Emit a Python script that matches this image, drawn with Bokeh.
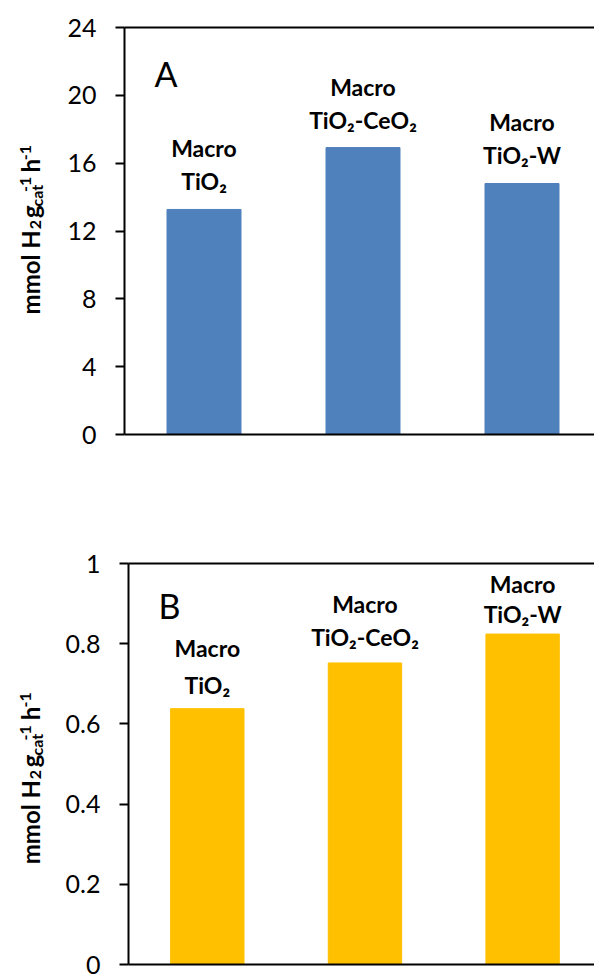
import math
from bokeh.plotting import figure
from bokeh.layouts import column, row
from bokeh.models import (ColumnDataSource, Range1d, LinearAxis, FixedTicker,
                          NumeralTickFormatter, Label)
from bokeh.core.properties import value
from bokeh.embed import file_html
from bokeh.resources import INLINE

# ---------------- data ----------------
catalysts_line1 = ["Macro", "Macro", "Macro"]
catalysts_line2 = ["TiO\u2082", "TiO\u2082-CeO\u2082", "TiO\u2082-W"]
h2_rate_A = [13.27, 16.92, 14.80]   # panel A, mmol H2 gcat-1 h-1
h2_rate_B = [0.638, 0.752, 0.824]   # panel B, mmol H2 gcat-1 h-1
yticks_A = [0, 4, 8, 12, 16, 20, 24]
yticks_B = [0, 0.2, 0.4, 0.6, 0.8, 1.0]

# ---------------- style / layout ----------------
FONT = "Lato"
W = 594
LW = 62                              # width of the strip holding the y title
FRAME_LEFT = 124
CAT_PX = 159.0                       # pixels per category slot
X_END = (W - FRAME_LEFT) / CAT_PX
BAR_W = 74.0 / CAT_PX

# label offsets (screen px above bar top) for the two text lines
offs_A = {"l2": [-28, -28, -29], "l1": [-61, -61, -62]}
offs_B = {"l2": [-24, -26, -20], "l1": [-61, -59, -50]}


def make_panel(values, yticks, ymax, color, letter, fmt, height, top, bottom,
               offs, frame_h, letter_y):
    p = figure(width=W - LW, height=height, output_backend="svg",
               toolbar_location=None,
               x_range=Range1d(0, X_END), y_range=Range1d(0, ymax),
               min_border_left=FRAME_LEFT - LW, min_border_right=0,
               min_border_top=top, min_border_bottom=bottom,
               x_axis_type=None, y_axis_type=None)
    p.outline_line_color = None
    p.grid.visible = False

    # left axis
    yax = LinearAxis(ticker=FixedTicker(ticks=yticks),
                     formatter=NumeralTickFormatter(format=fmt))
    yax.axis_line_color = "black"
    yax.axis_line_width = 2
    yax.major_tick_line_color = "black"
    yax.major_tick_line_width = 2
    yax.major_tick_out = 9
    yax.major_tick_in = 0
    yax.minor_tick_line_color = None
    yax.major_label_standoff = 19
    yax.major_label_text_font = FONT
    yax.major_label_text_font_size = "25px"
    yax.major_label_text_color = "black"
    p.add_layout(yax, "left")

    # bottom and top frame lines
    for side in ("below", "above"):
        ax = LinearAxis(ticker=FixedTicker(ticks=[]))
        ax.axis_line_color = "black"
        ax.axis_line_width = 2
        ax.major_tick_line_color = None
        ax.minor_tick_line_color = None
        ax.major_label_text_font_size = "0px"
        ax.major_label_standoff = 0
        p.add_layout(ax, side)

    n = len(values)
    xs = [i + 0.5 for i in range(n)]
    src = ColumnDataSource(dict(x=xs, top=values, l1=catalysts_line1,
                                l2=catalysts_line2, o1=offs["l1"], o2=offs["l2"]))
    p.vbar(x="x", top="top", bottom=0, width=BAR_W, source=src,
           fill_color=color, line_color=color)

    for col, off in (("l1", "o1"), ("l2", "o2")):
        p.text(x="x", y="top", text=col, source=src, y_offset=off,
               text_align="center", text_baseline="alphabetic",
               text_font=value(FONT), text_font_style="bold",
               text_font_size="23px", text_color="black")

    # panel letter
    p.add_layout(Label(x=30, y=frame_h - letter_y, x_units="screen", y_units="screen",
                       text=letter, text_font=FONT, text_font_size="34px",
                       text_color="black", text_baseline="alphabetic"))
    return p


def ylabel_strip(height, start):
    # rotated axis title built from pieces (main text, subscripts, superscripts)
    f = figure(width=LW, height=height, output_backend="svg", toolbar_location=None,
               x_range=Range1d(0, LW), y_range=Range1d(0, height),
               min_border=0, x_axis_type=None, y_axis_type=None)
    f.outline_line_color = None
    f.grid.visible = False
    base = 30
    # text, distance along the title from its start, baseline shift, size, align
    pieces = [
        ("mmol H", 71, 0, "24px", "right"),
        ("2", 72, 5, "16px", "left"),
        ("g", 86, 0, "24px", "left"),
        ("cat", 100, 6, "16px", "left"),
        ("-1", 118, -5, "16px", "left"),
        ("h", 142, 0, "24px", "left"),
        ("-1", 157, -5, "16px", "left"),
    ]
    for txt, d, shift, size, align in pieces:
        f.text(x=[base + shift], y=[height - start + d], text=[txt],
               angle=math.pi / 2, text_align=align, text_baseline="alphabetic",
               text_font=value(FONT), text_font_style="bold",
               text_font_size=size, text_color="black")
    return f


pA = make_panel(h2_rate_A, yticks_A, 24, "#4F81BD", "A", "0", 500, 27, 66,
                offs_A, 407, 46)
pB = make_panel(h2_rate_B, yticks_B, 1.0, "#FFC000", "B", "0.[0]", 476, 63, 12,
                offs_B, 401, 42)
sA = ylabel_strip(500, 320)
sB = ylabel_strip(476, 828 - 500)

layout = column(row(sA, pA, spacing=0), row(sB, pB, spacing=0), spacing=0)
open("out.html", "w").write(file_html(layout, INLINE))
